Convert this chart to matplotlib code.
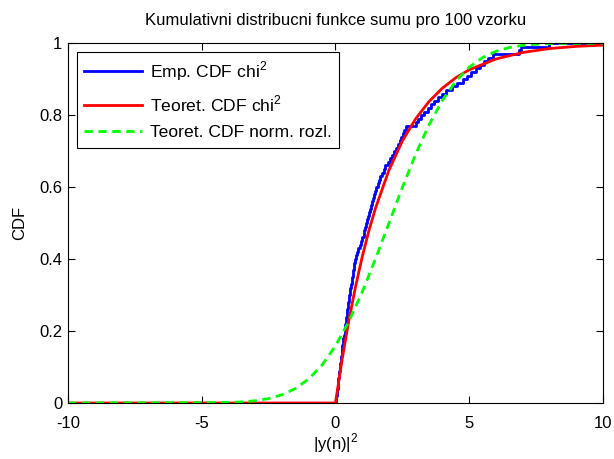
import numpy as np
import matplotlib
matplotlib.use("Agg")
import matplotlib.pyplot as plt

plt.rcParams['font.family'] = ['Liberation Sans', 'DejaVu Sans']
plt.rcParams['mathtext.fontset'] = 'custom'
plt.rcParams['mathtext.rm'] = 'Liberation Sans'

# sorted noise power samples (100 draws)
samples = [0.02, 0.03, 0.05, 0.07, 0.08, 0.10, 0.11, 0.13, 0.15, 0.16,
           0.18, 0.19, 0.21, 0.23, 0.25, 0.26, 0.28, 0.30, 0.32, 0.34,
           0.36, 0.37, 0.39, 0.41, 0.43, 0.45, 0.46, 0.48, 0.50, 0.52,
           0.54, 0.56, 0.58, 0.60, 0.62, 0.64, 0.66, 0.68, 0.71, 0.74,
           0.78, 0.82, 0.86, 0.90, 0.94, 0.99, 1.05, 1.08, 1.12, 1.15,
           1.19, 1.22, 1.26, 1.30, 1.34, 1.37, 1.41, 1.45, 1.49, 1.53,
           1.58, 1.63, 1.68, 1.74, 1.80, 1.87, 1.95, 2.03, 2.11, 2.20,
           2.27, 2.33, 2.40, 2.46, 2.52, 2.58, 2.65, 3.00, 3.08, 3.18,
           3.30, 3.45, 3.58, 3.70, 3.82, 4.00, 4.15, 4.35, 4.56, 4.75,
           4.92, 5.08, 5.25, 5.40, 5.57, 5.72, 5.90, 6.85, 6.95, 8.00]

# theoretical chi^2 CDF
chi_x = [-10, 0, 0.25, 0.5, 0.75, 1.0, 1.25, 1.5, 2.0, 2.5, 3.0, 3.5, 4.0,
         4.5, 5.0, 6.0, 7.0, 8.0, 9.0, 10.0]
chi_y = [0.0, 0.0, 0.122, 0.229, 0.323, 0.406, 0.479, 0.542, 0.647,
         0.728, 0.790, 0.838, 0.875, 0.904, 0.926, 0.956, 0.974,
         0.985, 0.991, 0.9945]

# theoretical normal CDF
norm_x = [-10, -4.0, -3.5, -3.0, -2.5, -2.0, -1.5, -1.0, -0.5, 0.0, 0.5, 1.0,
          1.5, 2.0, 2.5, 3.0, 3.5, 4.0, 4.5, 5.0, 5.5, 6.0, 6.5, 7.0, 7.5,
          8.0, 10.0]
norm_y = [0.0, 0.0013, 0.0030, 0.0062, 0.0122, 0.0228, 0.0401, 0.0668,
          0.1056, 0.1587, 0.2266, 0.3085, 0.4013, 0.5, 0.5987, 0.6915,
          0.7734, 0.8413, 0.8944, 0.9332, 0.9599, 0.9772, 0.9878, 0.9938,
          0.9970, 0.9987, 1.0]

FS = 12

fig = plt.figure(figsize=(6.14, 4.59), dpi=100)
ax = fig.add_axes([0.1107, 0.122, 0.8713, 0.784])

n = len(samples)
emp_x = [-10] + samples + [10]
emp_y = [0.0] + [(i + 1) / n for i in range(n)] + [1.0]
ax.step(emp_x, emp_y, where='post', color='#0000ff', lw=2,
        label='Emp. CDF chi$^2$')
ax.plot(chi_x, chi_y, color='#ff0000', lw=2, label='Teoret. CDF chi$^2$')
ax.plot(norm_x, norm_y, color='#00ff00', lw=2, ls=(0, (3, 2)),
        label='Teoret. CDF norm. rozl.')

ax.set_xlim(-10, 10)
ax.set_ylim(0, 1)
ax.set_xticks([-10, -5, 0, 5, 10])
ax.set_xticklabels(['-10', '-5', '0', '5', '10'])
ax.set_yticks([0, 0.2, 0.4, 0.6, 0.8, 1])
ax.set_yticklabels(['0', '0.2', '0.4', '0.6', '0.8', '1'])
ax.tick_params(direction='in', length=5, width=0.8, top=True, right=True,
               labelsize=FS, colors='black')
ax.tick_params(axis='x', pad=9)
ax.tick_params(axis='y', pad=4)
for s in ax.spines.values():
    s.set_linewidth(0.8)

ax.set_title('Kumulativni distribucni funkce sumu pro 100 vzorku',
             fontsize=FS, pad=13)
ax.set_xlabel('|y(n)|$^2$', fontsize=FS, labelpad=1)
ax.set_ylabel('CDF', fontsize=FS, labelpad=9)

leg = ax.legend(loc='upper left', prop={'size': 12.6}, handlelength=3.3,
                borderaxespad=0.5, frameon=True, fancybox=False,
                edgecolor='black', framealpha=1, labelspacing=0.62,
                handletextpad=0.45, borderpad=0.42)
leg.get_frame().set_linewidth(0.8)

fig.savefig('out.png', dpi=100)
